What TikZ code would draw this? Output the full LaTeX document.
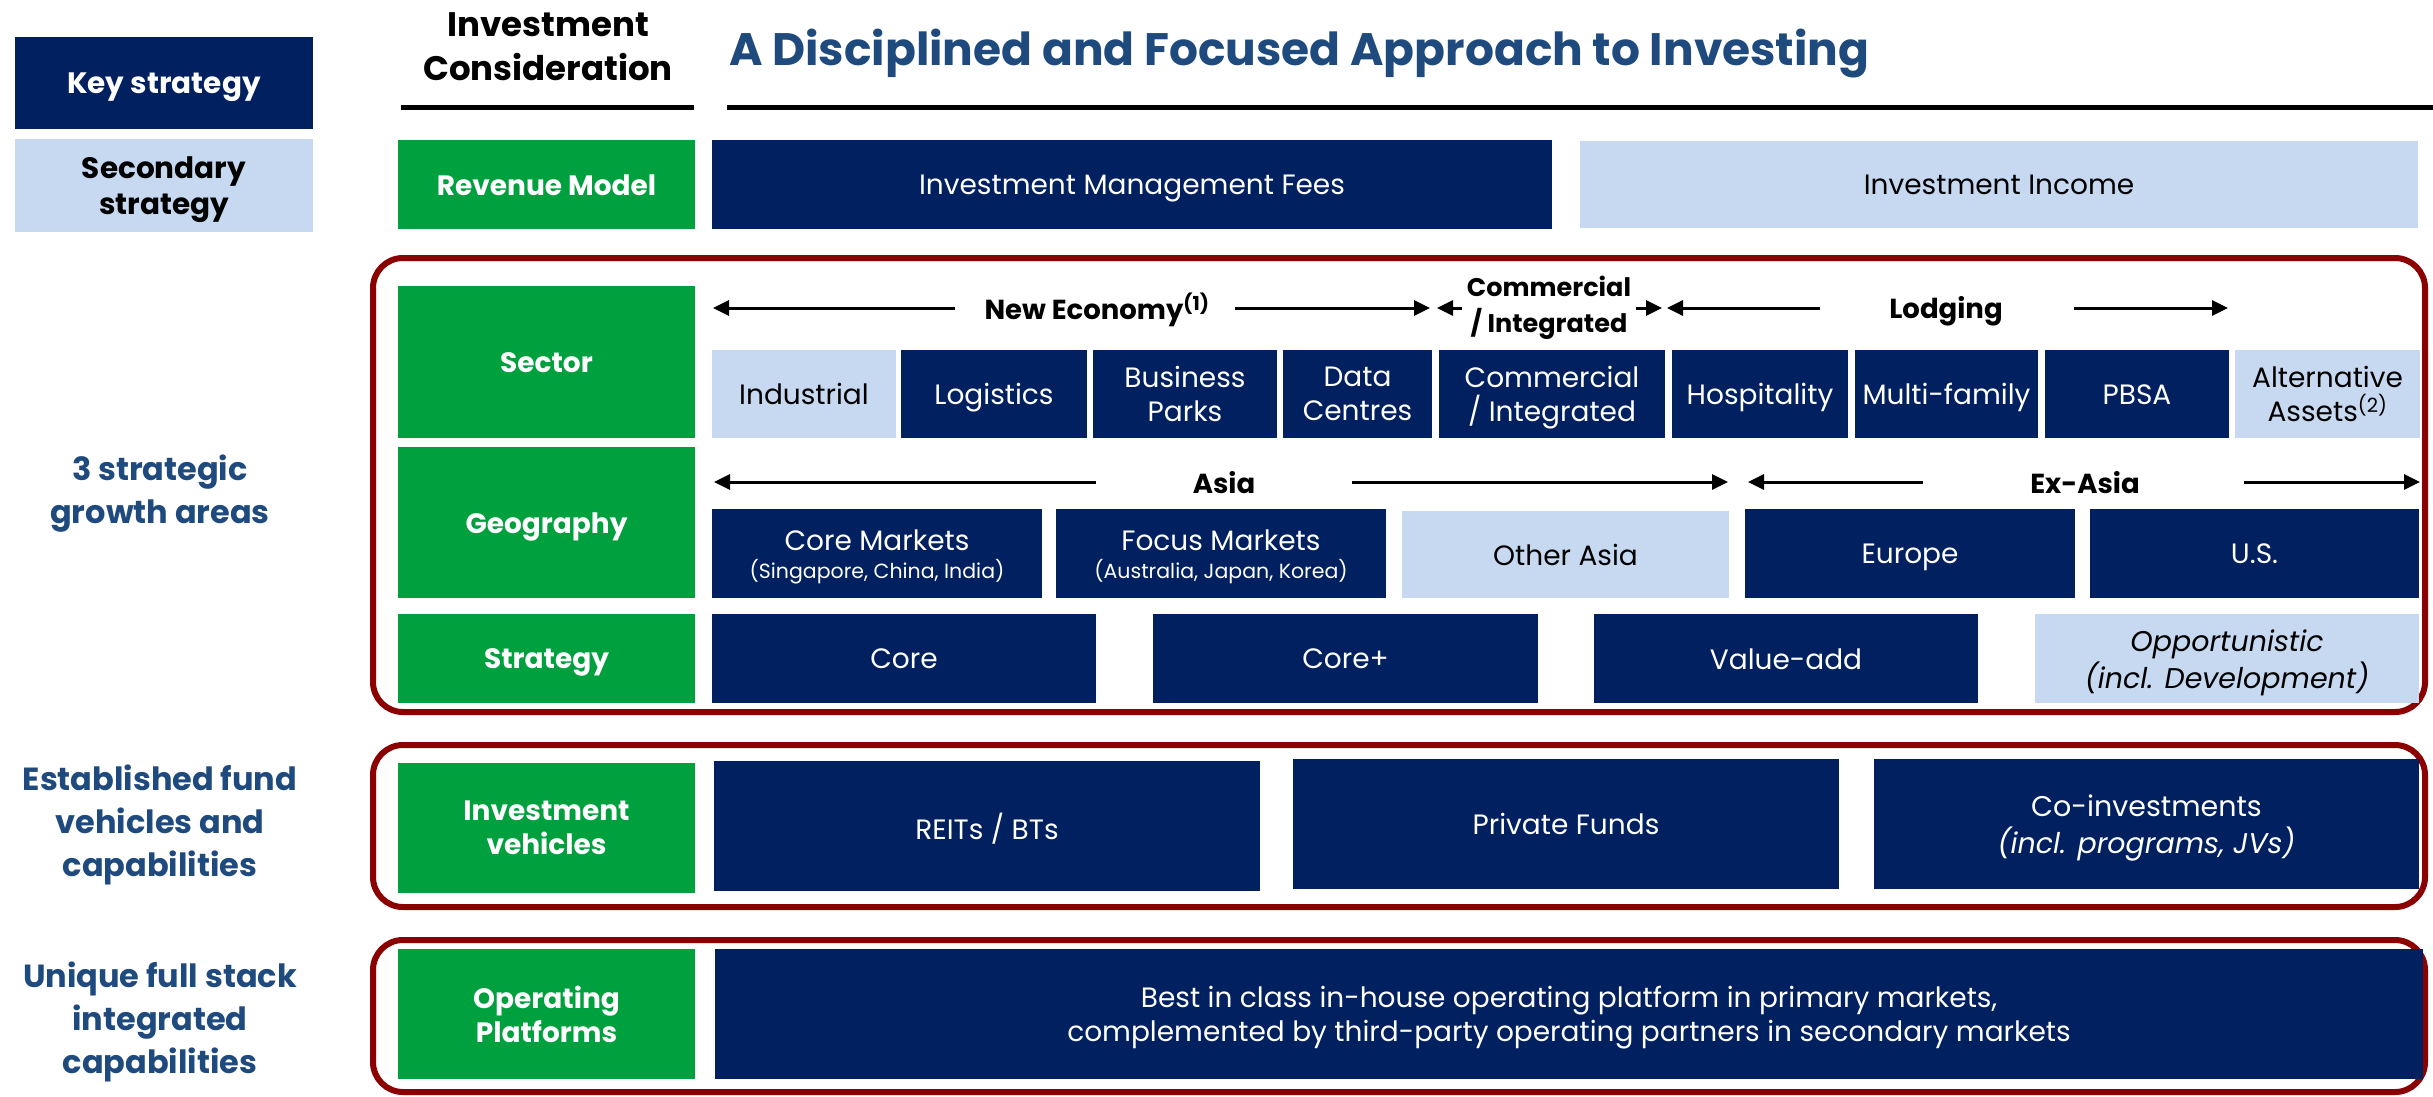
\documentclass[tikz,border=0pt]{standalone}
\usepackage{fontspec}
\usetikzlibrary{arrows.meta}
\newfontfamily\cg{Poppins}
\definecolor{navyc}{HTML}{002060}
\definecolor{grnc}{HTML}{00A03E}
\definecolor{litec}{HTML}{C6D9F1}
\definecolor{redc}{HTML}{8B0000}
\definecolor{bluet}{HTML}{1F4A7E}
% box: name, x1, y1, x2, y2, style, text (text set slightly below centre, as in the reference)
\newcommand\cbox[7]{\node[#6, minimum width={#4-#2}, minimum height={#5-#3}] (#1) at ({(#2+#4)/2},{(#3+#5)/2}) {};
  \node[#6, fill=none, minimum width=0pt, minimum height=0pt, execute at end node={\vphantom{g}}] (#1-t) at ({(#2+#4)/2},{(#3+#5)/2+4}) {#7};}
\tikzset{
  base/.style={inner sep=0pt, outer sep=0pt, align=center, font=\cg\fontsize{28}{34}\selectfont},
  navy/.style={base, fill=navyc, text=white},
  lite/.style={base, fill=litec, text=black},
  grn/.style={base, fill=grnc, text=white, font=\cg\bfseries\fontsize{28}{34}\selectfont},
  keyb/.style={base, fill=navyc, text=white, font=\cg\bfseries\fontsize{29.5}{36}\selectfont},
  secb/.style={base, fill=litec, text=black, font=\cg\bfseries\fontsize{29.5}{36}\selectfont},
  hdr/.style={inner sep=0pt, align=center, font=\cg\bfseries\fontsize{27.5}{37}\selectfont},
  side/.style={inner sep=0pt, align=center, text=bluet, font=\cg\bfseries\fontsize{32}{43}\selectfont},
  frame/.style={draw=redc, line width=6pt, rounded corners=30pt},
  arr/.style={line width=3pt, -{Triangle[length=16pt,width=15pt]}},
  uline/.style={line width=5pt}
}
\begin{document}
\begin{tikzpicture}[x=1pt,y=-1pt]
\useasboundingbox (0,0) rectangle (2433,1096);
% legend
\cbox{key}{15}{37}{313}{129}{keyb}{Key strategy}
\cbox{sec}{15}{139}{313}{232}{secb}{Secondary\\strategy}
% headings
\node[hdr, font=\cg\bfseries\fontsize{34}{44}\selectfont] (ic) at (548,47) {Investment\\Consideration};
\node[inner sep=0pt, anchor=base west, text=bluet, font=\cg\bfseries\fontsize{45.5}{50}\selectfont] (title) at (729,65) {A Disciplined and Focused Approach to Investing};
\coordinate (u1a) at (401,107); \coordinate (u1b) at (694,107);
\coordinate (u2a) at (727,107); \coordinate (u2b) at (2433,107);
\draw[uline] (u1a) -- (u1b);
\draw[uline] (u2a) -- (u2b);
% frames
\draw[frame] (373,258) rectangle (2425,712);
\draw[frame] (373,745) rectangle (2425,907);
\draw[frame] (373,940) rectangle (2425,1092);
% side labels
\node[side] (sga) at (160,494) {3 strategic\\growth areas};
\node[side] (efv) at (160,825) {Established fund\\vehicles and\\capabilities};
\node[side] (ufs) at (160,1022) {Unique full stack\\integrated\\capabilities};
% revenue row
\cbox{rev}{398}{140}{695}{229}{grn}{Revenue Model}
\cbox{imf}{712}{140}{1552}{229}{navy}{Investment Management Fees}
\cbox{ii}{1580}{141}{2418}{228}{lite}{Investment Income}
% sector
\cbox{sector}{398}{286}{695}{438}{grn}{Sector}
\cbox{ind}{712}{350}{896}{438}{lite}{Industrial}
\cbox{log}{901}{350}{1087}{438}{navy}{Logistics}
\cbox{bp}{1093}{350}{1277}{438}{navy}{Business\\Parks}
\cbox{dc}{1283}{350}{1432}{438}{navy}{Data\\Centres}
\cbox{ci}{1439}{350}{1665}{438}{navy}{Commercial\\/ Integrated}
\cbox{hos}{1672}{350}{1848}{438}{navy}{Hospitality}
\cbox{mf}{1855}{350}{2038}{438}{navy}{Multi-family}
\cbox{pbsa}{2045}{350}{2229}{438}{navy}{PBSA}
\cbox{alt}{2235}{350}{2420}{438}{lite}{Alternative\\Assets\textsuperscript{(2)}}
% sector header
\node[hdr] (ne) at (1097,310) {New Economy\textsuperscript{(1)}};
\node[hdr, font=\cg\bfseries\fontsize{25.5}{36}\selectfont] (cih) at (1549,308) {Commercial\\/ Integrated};
\node[hdr] (lod) at (1946,311) {Lodging};
\coordinate (neL) at (713,308); \coordinate (neLs) at (955,308);
\coordinate (neR) at (1430,308); \coordinate (neRs) at (1235,308);
\coordinate (ciL) at (1437,308); \coordinate (ciLs) at (1462,308);
\coordinate (ciR) at (1662,308); \coordinate (ciRs) at (1636,308);
\coordinate (loL) at (1667,308); \coordinate (loLs) at (1820,308);
\coordinate (loR) at (2228,308); \coordinate (loRs) at (2074,308);
\draw[arr] (neLs) -- (neL);
\draw[arr] (neRs) -- (neR);
\draw[arr] (ciLs) -- (ciL);
\draw[arr] (ciRs) -- (ciR);
\draw[arr] (loLs) -- (loL);
\draw[arr] (loRs) -- (loR);
% geography
\cbox{geo}{398}{447}{695}{598}{grn}{Geography}
\cbox{cm}{712}{509}{1042}{598}{navy}{Core Markets\\[-6pt]{\fontsize{20.5}{25}\selectfont (Singapore, China, India)}}
\cbox{fm}{1056}{509}{1386}{598}{navy}{Focus Markets\\[-6pt]{\fontsize{20.5}{25}\selectfont (Australia, Japan, Korea)}}
\cbox{oa}{1402}{511}{1729}{598}{lite}{Other Asia}
\cbox{eu}{1745}{509}{2075}{598}{navy}{Europe}
\cbox{us}{2090}{509}{2419}{598}{navy}{U.S.}
\node[hdr] (asia) at (1224,483) {Asia};
\node[hdr] (exasia) at (2085,483) {Ex-Asia};
\coordinate (asL) at (714,482); \coordinate (asLs) at (1096,482);
\coordinate (asR) at (1728,482); \coordinate (asRs) at (1352,482);
\coordinate (exL) at (1748,482); \coordinate (exLs) at (1923,482);
\coordinate (exR) at (2420,482); \coordinate (exRs) at (2244,482);
\draw[arr] (asLs) -- (asL);
\draw[arr] (asRs) -- (asR);
\draw[arr] (exLs) -- (exL);
\draw[arr] (exRs) -- (exR);
% strategy
\cbox{strat}{398}{614}{695}{703}{grn}{Strategy}
\cbox{core}{712}{614}{1096}{703}{navy}{Core}
\cbox{corep}{1153}{614}{1538}{703}{navy}{Core+}
\cbox{va}{1594}{614}{1978}{703}{navy}{Value-add}
\cbox{opp}{2035}{614}{2419}{703}{lite, font=\cg\itshape\fontsize{28.5}{37}\selectfont}{Opportunistic\\(incl. Development)}
% vehicles
\cbox{iv}{398}{763}{695}{893}{grn}{Investment\\vehicles}
\cbox{reit}{714}{761}{1260}{891}{navy}{REITs / BTs}
\cbox{pf}{1293}{759}{1839}{889}{navy}{Private Funds}
\cbox{coi}{1874}{759}{2419}{889}{navy, font=\cg\fontsize{28.5}{37}\selectfont}{Co-investments\\\textit{(incl. programs, JVs)}}
% operating
\cbox{op}{398}{949}{695}{1079}{grn}{Operating\\Platforms}
\cbox{best}{715}{949}{2423}{1079}{navy}{Best in class in-house operating platform in primary markets,\\complemented by third-party operating partners in secondary markets}
\end{tikzpicture}
\end{document}
